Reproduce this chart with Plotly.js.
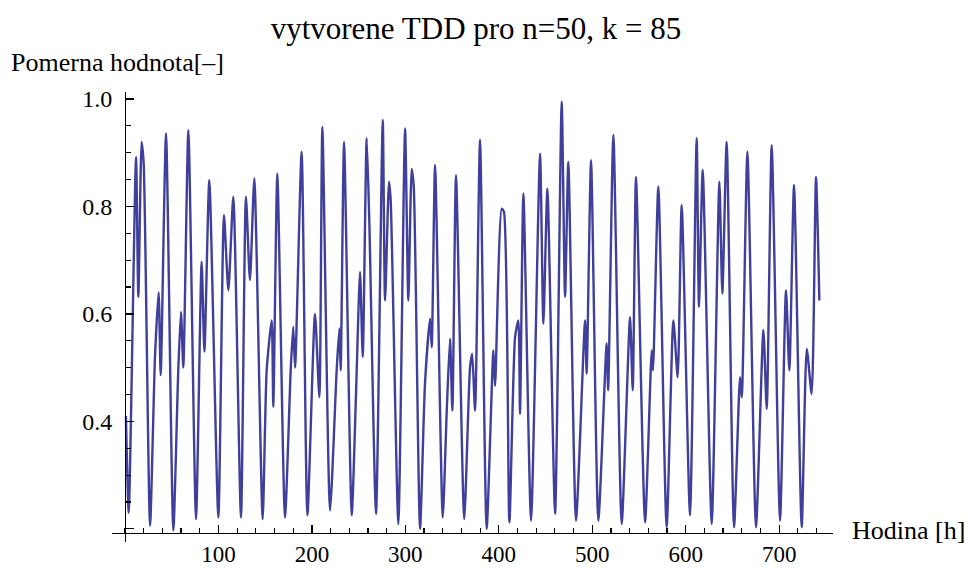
<!DOCTYPE html>
<html>
<head>
<meta charset="utf-8">
<script src="https://cdn.plot.ly/plotly-3.0.1.min.js"></script>
<style>
html,body{margin:0;padding:0;background:#fff;}
#chart{width:971px;height:568px;}
</style>
</head>
<body>
<div id="chart"></div>
<script>
// Key points (hour, relative value)
const hours = [
  1, 4, 11.8, 14.3, 17.8, 20, 26.8,
  32.1, 36, 38.2, 43.9, 51.7,
  57, 59.9, 62.4, 67.8, 76,
  82, 85, 90.2, 99.9,
  105.9, 110.6, 115.9, 124.1,
  129.4, 133.7, 138.4, 147.3,
  151.6, 157, 158.7, 163, 171.2,
  177.3, 180, 182, 189, 195.2,
  203.3, 208, 211.2, 219.4,
  226.5, 229.4, 230.8, 234.4, 242.6,
  247.2, 251.5, 254.4, 258.6, 261.5, 268.6,
  275.8, 278.3, 282.5, 284.3, 292.5,
  299.7, 303.2, 306.8, 309, 315.7,
  321, 326.4, 328.2, 331.8, 340,
  344.3, 347.8, 350.3, 354.2, 363,
  369.2, 371.5, 374.6, 379.9, 387,
  394.2, 396, 403.1, 405.5, 411.3,
  417.4, 420.9, 422.7, 426.3, 434.5,
  444.1, 447.7, 452, 460.2,
  467.3, 470.9, 474.4, 482.6,
  492.3, 494, 498.7, 506.5,
  515.4, 517, 522.6, 531.5,
  540.4, 543.3, 546.8, 556.5,
  563.6, 565, 570.7, 579.6,
  586.8, 591.4, 595.7, 604.6,
  611.7, 614.2, 618.2, 627.8,
  636, 639.2, 643.8, 651.7,
  658.1, 660, 666, 675.2,
  683.1, 686.7, 692, 700.9,
  707.3, 710.9, 715.9, 724.1,
  729.5, 734.8, 739.4, 743
];
const values = [
  0.41, 0.23, 0.892, 0.632, 0.92, 0.88, 0.206,
  0.52, 0.64, 0.486, 0.936, 0.197,
  0.495, 0.604, 0.50, 0.942, 0.218,
  0.697, 0.53, 0.849, 0.221,
  0.784, 0.644, 0.818, 0.221,
  0.818, 0.663, 0.852, 0.218,
  0.495, 0.588, 0.427, 0.861, 0.221,
  0.495, 0.576, 0.50, 0.902, 0.225,
  0.60, 0.445, 0.948, 0.234,
  0.495, 0.573, 0.495, 0.92, 0.225,
  0.451, 0.678, 0.52, 0.927, 0.768, 0.228,
  0.961, 0.625, 0.846, 0.812, 0.209,
  0.945, 0.625, 0.87, 0.837, 0.20,
  0.47, 0.591, 0.538, 0.877, 0.221,
  0.42, 0.554, 0.42, 0.858, 0.218,
  0.50, 0.526, 0.42, 0.924, 0.20,
  0.532, 0.466, 0.796, 0.79, 0.212,
  0.557, 0.588, 0.414, 0.824, 0.215,
  0.898, 0.582, 0.833, 0.228,
  0.995, 0.632, 0.883, 0.215,
  0.588, 0.489, 0.886, 0.215,
  0.545, 0.458, 0.933, 0.209,
  0.594, 0.458, 0.855, 0.212,
  0.532, 0.495, 0.837, 0.203,
  0.588, 0.482, 0.803, 0.225,
  0.927, 0.613, 0.868, 0.209,
  0.846, 0.638, 0.92, 0.203,
  0.482, 0.445, 0.902, 0.203,
  0.57, 0.423, 0.914, 0.215,
  0.644, 0.495, 0.84, 0.203,
  0.535, 0.451, 0.855, 0.625
];

const xTickVals = [100, 200, 300, 400, 500, 600, 700];
const xTickText = ['100', '200', '300', '400', '500', '600', '700'];
const yTickVals = [0.2, 0.4, 0.6, 0.8, 1.0];
const yTickText = ['', '0.4', '0.6', '0.8', '1.0'];

const titleText = 'vytvorene TDD pro n=50, k = 85';
const xLabel = 'Hodina [h]';
const yLabel = 'Pomerna hodnota[–]';

// layout geometry
const W = 971, H = 568;
const L = 112, R = 833, T = 92, B = 542;
const xRange = [-13.9, 757.6];
const yRange = [0.1755, 1.013];
const xAxisAt = 0.193;   // value where horizontal axis crosses
const yAxisAt = 0;       // hour where vertical axis crosses

const px2paperX = p => (p - L) / (R - L);
const px2paperY = p => (B - p) / (B - T);

const font = 'Liberation Serif, Times New Roman, serif';

const trace = {
  x: hours,
  y: values,
  type: 'scatter',
  mode: 'lines',
  line: {color: 'rgb(64,64,156)', width: 2.4, shape: 'spline', smoothing: 0.6},
  hoverinfo: 'x+y'
};

const layout = {
  width: W, height: H,
  margin: {l: L, r: W - R, t: T, b: H - B, pad: 0},
  paper_bgcolor: '#fff', plot_bgcolor: '#fff',
  showlegend: false,
  title: {
    text: titleText,
    font: {family: font, size: 31, color: '#000'},
    xref: 'container', yref: 'container',
    x: 476 / W, xanchor: 'center',
    y: 1 - 28 / H, yanchor: 'middle'
  },
  xaxis: {
    range: xRange,
    anchor: 'free',
    position: (xAxisAt - yRange[0]) / (yRange[1] - yRange[0]),
    showline: true, linecolor: '#000', linewidth: 1.3,
    zeroline: false, showgrid: false,
    tickmode: 'array', tickvals: xTickVals, ticktext: xTickText,
    ticks: 'inside', ticklen: 8, tickwidth: 1.3, tickcolor: '#000',
    minor: {tickmode: 'linear', tick0: 0, dtick: 20, ticks: 'inside', ticklen: 4.5, tickwidth: 1.2, tickcolor: '#000', showgrid: false},
    tickfont: {family: font, size: 23, color: '#000'},
    ticklabelstandoff: 1
  },
  yaxis: {
    range: yRange,
    anchor: 'free',
    position: (yAxisAt - xRange[0]) / (xRange[1] - xRange[0]),
    showline: true, linecolor: '#000', linewidth: 1.3,
    zeroline: false, showgrid: false,
    tickmode: 'array', tickvals: yTickVals, ticktext: yTickText,
    ticks: 'inside', ticklen: 8, tickwidth: 1.3, tickcolor: '#000',
    minor: {tickmode: 'linear', tick0: 0, dtick: 0.05, ticks: 'inside', ticklen: 4.5, tickwidth: 1.2, tickcolor: '#000', showgrid: false},
    tickfont: {family: font, size: 24, color: '#000'},
    ticklabelstandoff: 8
  },
  annotations: [
    {
      text: yLabel, xref: 'paper', yref: 'paper',
      x: px2paperX(9), xanchor: 'left',
      y: px2paperY(62), yanchor: 'middle',
      showarrow: false,
      font: {family: font, size: 26, color: '#000'}
    },
    {
      text: xLabel, xref: 'paper', yref: 'paper',
      x: px2paperX(850), xanchor: 'left',
      y: px2paperY(530), yanchor: 'middle',
      showarrow: false,
      font: {family: font, size: 26, color: '#000'}
    }
  ]
};

Plotly.newPlot('chart', [trace], layout, {displayModeBar: false, staticPlot: true});
</script>
</body>
</html>
